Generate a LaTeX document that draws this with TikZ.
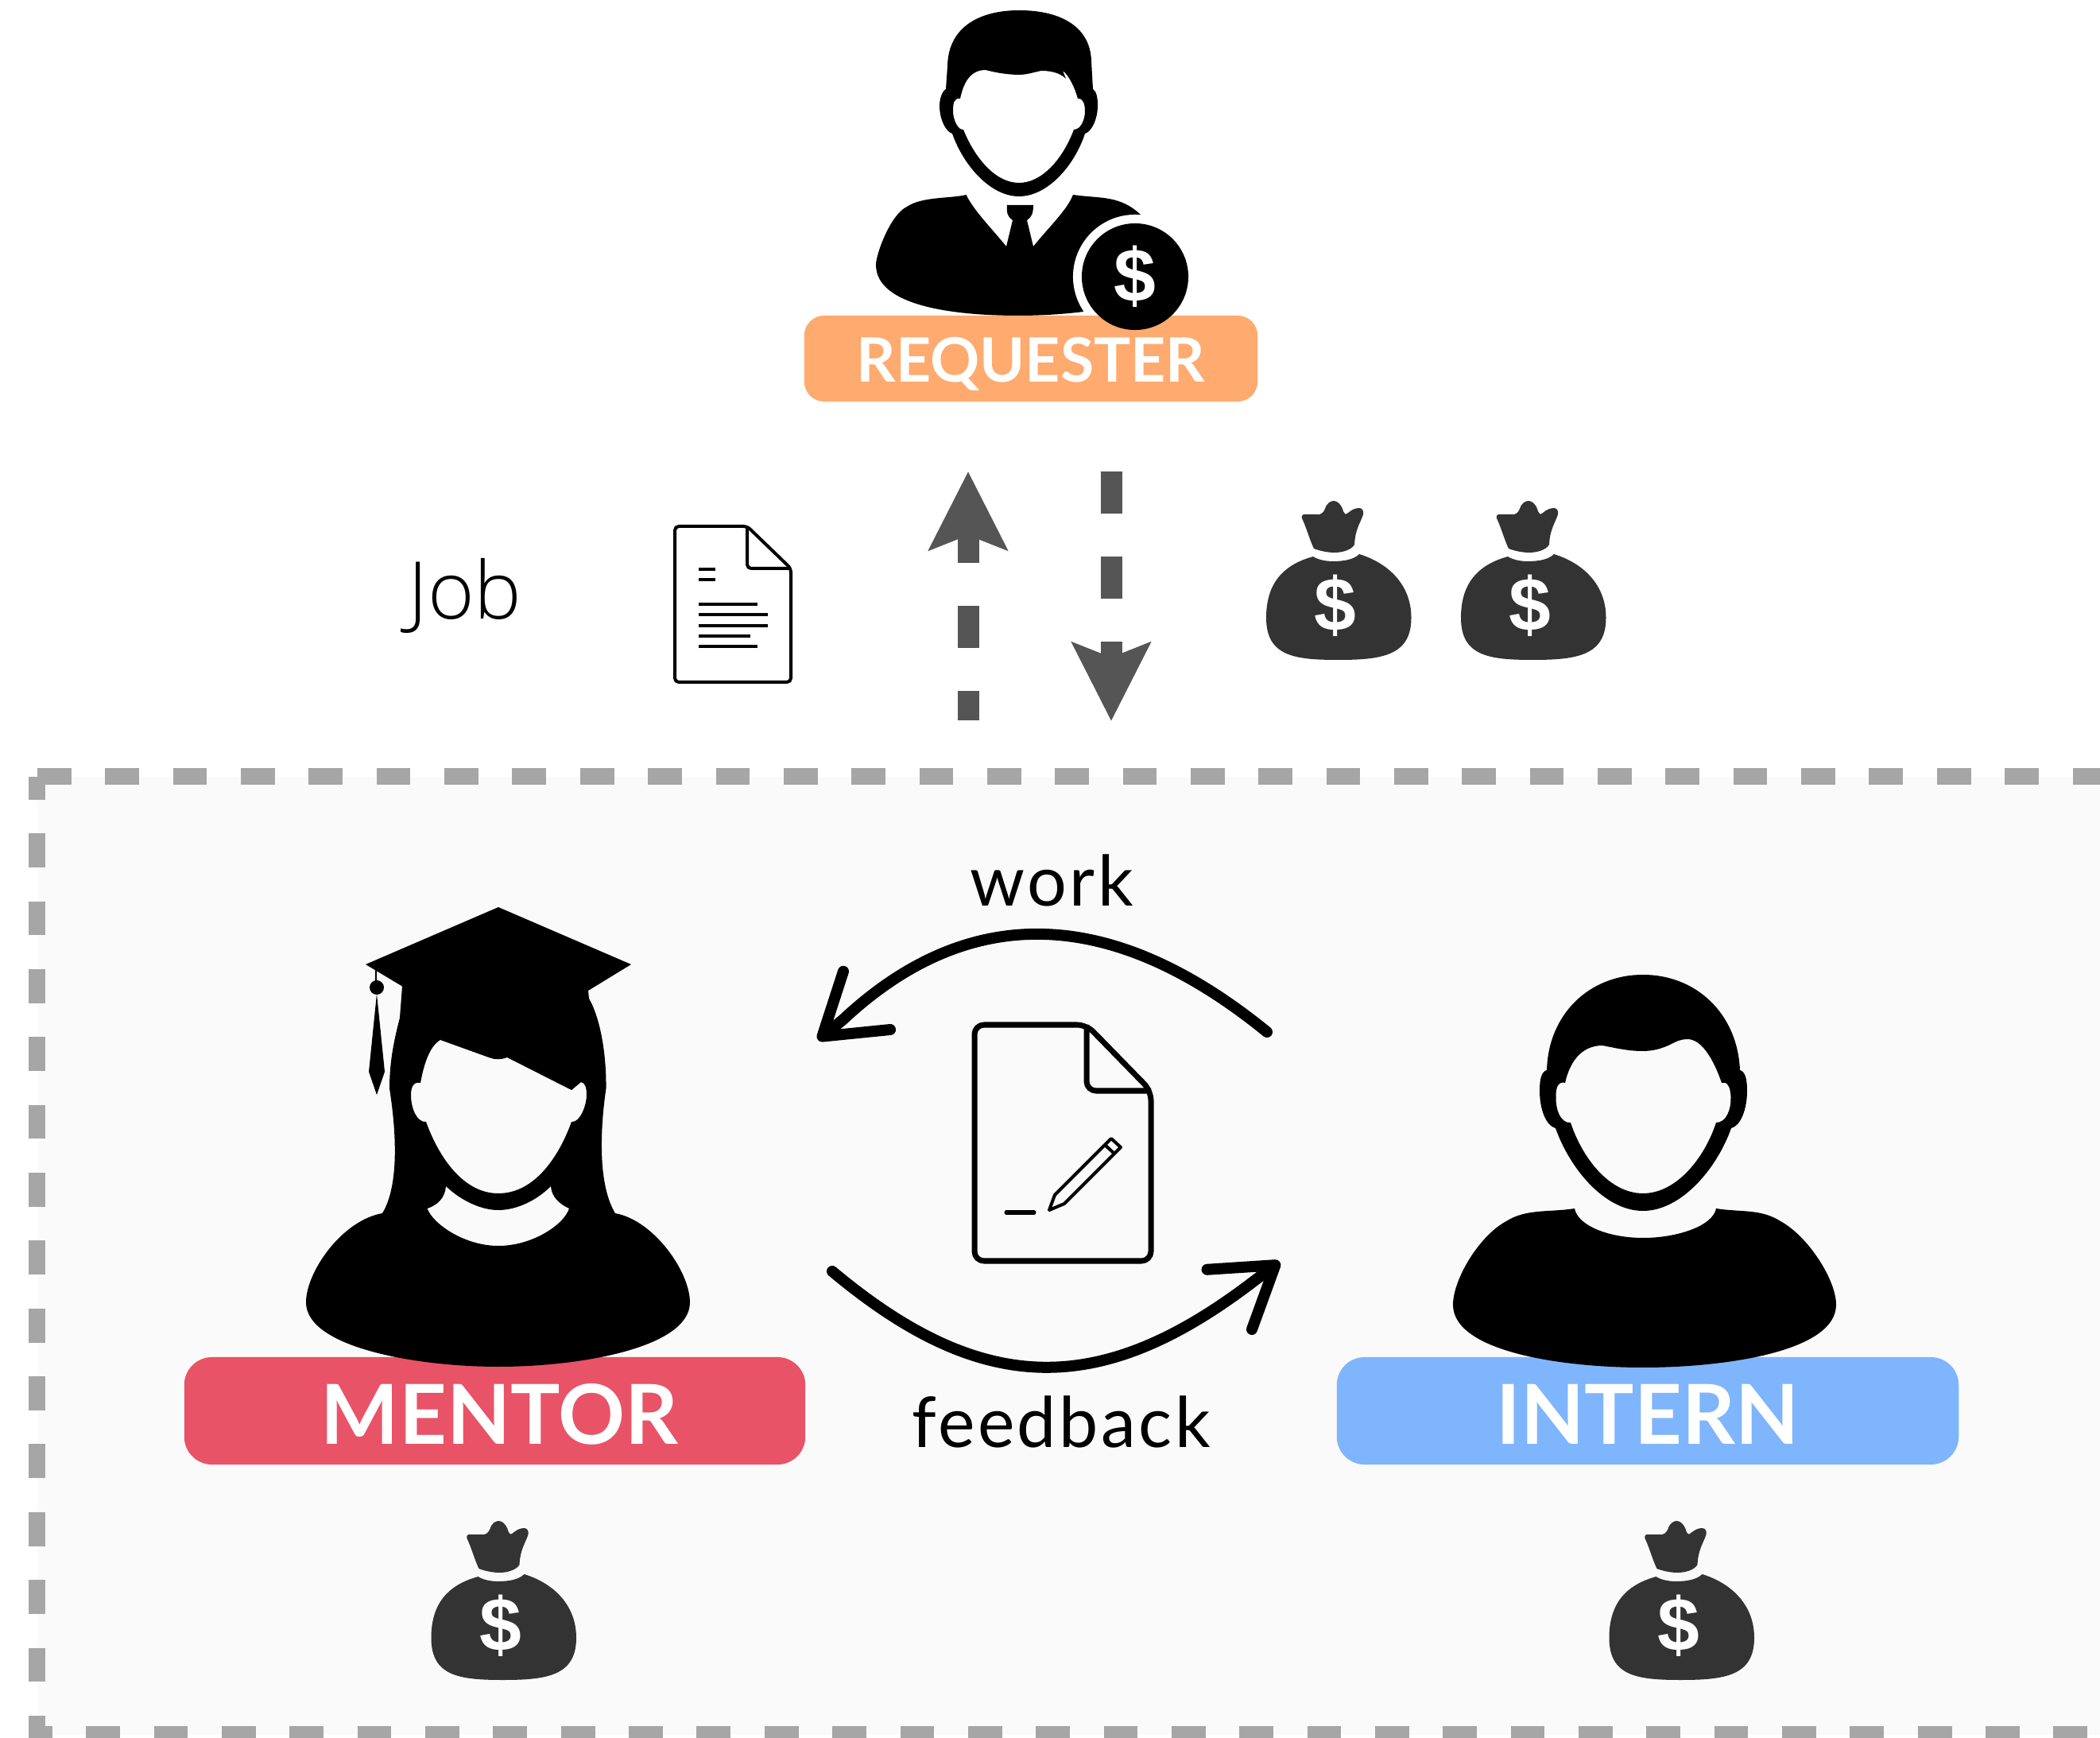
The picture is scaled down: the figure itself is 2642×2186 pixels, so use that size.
\documentclass[tikz,border=0pt]{standalone}
\usepackage{fontspec}
\setmainfont{Lato}
\newfontfamily\thinfont[LetterSpace=4]{Lato}
\newfontfamily\jobfont{Open Sans Light}
\newfontfamily\signfont{Liberation Sans}
\usetikzlibrary{positioning,arrows.meta}
\definecolor{reqorange}{HTML}{FFAA6E}
\definecolor{mentorred}{HTML}{E95367}
\definecolor{internblue}{HTML}{7FB5FC}
\definecolor{gatefill}{HTML}{FAFAFA}
\definecolor{gategray}{HTML}{A6A6A6}
\definecolor{flowgray}{HTML}{555555}
\definecolor{baggray}{HTML}{333333}
\tikzset{
  moneybag/.pic={
    \fill[baggray] (-40,22) .. controls (-41,18) and (-39,17) .. (-36,17) -- (-22,17) .. controls (-15,18) and (-13,14) .. (-11,10) .. controls (-9,3) and (-4,0) .. (0,0) .. controls (5,0) and (9,5) .. (11,10) .. controls (13,17) and (15,18) .. (18,15) .. controls (23,11) and (27,9) .. (32,9) .. controls (36,9) and (38,13) .. (37,17) .. controls (34,27) and (27,35) .. (26,55) .. controls (22,62) and (10,65) .. (1,65) .. controls (-8,65) and (-17,63) .. (-25,60) .. controls (-30,50) and (-35,32) .. (-40,22) -- cycle;
    \fill[baggray] (-26,70) .. controls (-20,74) and (-10,76) .. (-1,76) .. controls (12,76) and (25,74) .. (32,67) .. controls (68,78) and (97.5,105) .. (97.5,147) .. controls (97.5,195) and (60,200) .. (5,200) .. controls (-50,200) and (-85,195) .. (-85,147) .. controls (-85,102) and (-62,80) .. (-26,70) -- cycle;
    \node (sign) [sign] at (2,132) {\$};
  }
}
\begin{document}
\begin{tikzpicture}[
     x = 0.01cm, y = -0.01cm,
       sign/.style = {text=white, inner sep=0pt, font=\signfont\bfseries\fontsize{27}{30}\selectfont},
    tagbox/.style = {rectangle, text=white, inner sep=0pt, text depth=0pt, font=\bfseries},
      thin/.style = {inner sep=0pt, anchor=base, font=\thinfont\fontsize{25}{30}\selectfont},
  gateline/.style = {gategray, line width=0.21cm, dash pattern=on 0.427cm off 0.426cm},
  flowline/.style = {flowgray, line width=0.27cm, dash pattern=on 0.53cm off 0.54cm,
                     -{Stealth[length=0.98cm,width=0.97cm,inset=0.18cm]}},
  loopline/.style = {line width=0.14cm, line cap=round,
                     -{Straight Barb[length=0.72cm,width=0.94cm,round]}},
  docline/.style = {line width=0.07cm, rounded corners=0.12cm},
  jobline/.style = {line width=0.04cm, rounded corners=0.05cm}
                        ]
\useasboundingbox (0,0) rectangle (2642,2186);
% gate
\fill[gatefill] (47,977) rectangle (2642,2181.5);
\coordinate (gatetl) at (47,976.5);
\coordinate (gatetr) at (2642,976.5);
\coordinate (gateul) at (46.5,977);
\coordinate (gatedl) at (46.5,2186);
\coordinate (gatebl) at (36,2181.5);
\coordinate (gatebr) at (2642,2181.5);
\draw[gateline] (gatetl) -- (gatetr);
\draw[gateline, dash phase=0.14cm] (gateul) -- (gatedl);
\draw[gateline, dash phase=0.13cm] (gatebl) -- (gatebr);
% requester
\fill[even odd rule] (1190,112) -- (1192,83) .. controls (1193,32) and (1235,13) .. (1282,13) .. controls (1338,13) and (1372,36) .. (1373,77) -- (1375,112) .. controls (1380,115) and (1381,125) .. (1381,133) .. controls (1381,150) and (1373,166) .. (1365,168) .. controls (1352,208) and (1318,247) .. (1282,247) .. controls (1246,247) and (1212,208) .. (1198,168) .. controls (1190,166) and (1182,150) .. (1182,133) .. controls (1182,125) and (1185,115) .. (1190,112) -- cycle
  (1208,124) .. controls (1212,105) and (1220,88) .. (1240,88) .. controls (1255,92) and (1270,94) .. (1282,94) .. controls (1292,94) and (1300,91) .. (1310,89) .. controls (1325,89) and (1335,93) .. (1341,99) -- (1337,89) .. controls (1345,95) and (1352,110) .. (1356,124) .. controls (1362,123) and (1365,130) .. (1365,140) .. controls (1365,150) and (1360,163) .. (1351,163) .. controls (1338,198) and (1312,230) .. (1282,230) .. controls (1252,230) and (1226,198) .. (1212,163) .. controls (1205,164) and (1199,150) .. (1199,140) .. controls (1199,130) and (1200,123) .. (1208,124) -- cycle;
\fill (1215.5,245) .. controls (1225,265) and (1250,290) .. (1266,310) -- (1274,277) .. controls (1268,273) and (1266,268) .. (1267,258) -- (1300,258) .. controls (1300,268) and (1298,273) .. (1292,277) -- (1300,310) .. controls (1320,285) and (1342,265) .. (1350,245) .. controls (1385,250) and (1410,245) .. (1437,272) -- (1400,300) -- (1363,392) .. controls (1340,395) and (1310,397) .. (1282,397) .. controls (1200,397) and (1102,385) .. (1102,333) .. controls (1102,320) and (1120,270) .. (1141,260) .. controls (1160,247) and (1195,250) .. (1215.5,245) -- cycle;
\node (ring) [circle, fill=white, inner sep=0pt, minimum size=1.56cm] at (1428,348) {};
\node (requester) [tagbox, fill=reqorange, rounded corners=0.25cm, minimum width=5.7cm, minimum height=1.08cm, text height=0.58cm, font=\bfseries\fontsize{21.9}{26}\selectfont] at (1297,451) {REQUESTER};
\node (coin) [circle, fill=black, text=white, inner sep=0pt, minimum size=1.34cm, font=\signfont\bfseries\fontsize{27}{30}\selectfont] at (1428,348) {\$};
% job row
\node (job) [inner sep=0pt, anchor=base, font=\jobfont\fontsize{28.5}{32}\selectfont] at (585,779) {Job};
\draw[jobline] (849,662) -- (940,662) -- (995,715) -- (995,858) -- (849,858) -- cycle;
\draw[jobline] (940,662) -- (940,715) -- (995,715);
\draw[jobline] (879,716) -- (900,716);
\draw[jobline] (879,729) -- (900,729);
\draw[jobline] (879,760) -- (953,760);
\draw[jobline] (879,773) -- (966,773);
\draw[jobline] (879,787) -- (966,787);
\draw[jobline] (879,800) -- (944,800);
\draw[jobline] (879,813) -- (953,813);
\coordinate (upstart) at (1218,906);
\coordinate (upend) at (1218,593);
\coordinate (downstart) at (1398,593);
\coordinate (downend) at (1398,907);
\draw[flowline, dash phase=0.16cm] (upstart) -- (upend);
\draw[flowline] (downstart) -- (downend);
\pic (bagone) at (1678,630) {moneybag};
\pic (bagtwo) at (1923,630) {moneybag};
% mentor
\node (mentor) [tagbox, fill=mentorred, rounded corners=0.35cm, minimum width=7.81cm, minimum height=1.35cm, text height=0.83cm, font=\bfseries\fontsize{29.6}{34}\selectfont] at (622.5,1774.5) {\hspace*{0.12cm}MENTOR};
\fill[even odd rule] (627,1141) -- (794,1213) -- (740,1246) -- (741,1256) .. controls (755,1280) and (763,1325) .. (762.5,1369) .. controls (755,1420) and (752,1490) .. (774,1526) .. controls (823,1535) and (868,1600) .. (868,1638) .. controls (868,1695) and (730,1719) .. (627,1719) .. controls (525,1719) and (385,1695) .. (385,1638) .. controls (385,1600) and (430,1535) .. (481,1526) .. controls (503,1490) and (498,1420) .. (490,1369) .. controls (490,1330) and (498,1300) .. (503,1280) -- (506,1240.5) -- (460,1213) -- cycle
  (554,1308) -- (615,1330) .. controls (622,1333) and (630,1333) .. (638,1330) -- (719,1371) -- (731,1361) .. controls (737,1362) and (738,1370) .. (738,1377) .. controls (738,1390) and (730,1412) .. (719,1411) .. controls (705,1450) and (675,1501) .. (627,1501) .. controls (580,1501) and (550,1450) .. (536,1411) .. controls (525,1412) and (517,1395) .. (517,1377) .. controls (517,1368) and (520,1360) .. (529,1362) .. controls (533,1340) and (540,1316) .. (554,1308) -- cycle
  (561,1492) .. controls (580,1510) and (605,1522) .. (627,1522) .. controls (650,1522) and (675,1510) .. (693,1492) .. controls (694,1505) and (703,1514) .. (716,1520) .. controls (710,1540) and (670,1567) .. (627,1567) .. controls (585,1567) and (545,1540) .. (537.5,1520) .. controls (550,1516) and (560,1507) .. (561,1492) -- cycle;
\draw[line width=0.02cm] (473,1218) -- (473,1242);
\fill (474,1242) circle (0.09cm);
\fill (474,1250) -- (484,1348) -- (474,1377) -- (464,1348) -- cycle;
% intern
\node (intern) [tagbox, fill=internblue, rounded corners=0.35cm, minimum width=7.82cm, minimum height=1.35cm, text height=0.83cm, font=\bfseries\fontsize{29.6}{34}\selectfont] at (2073,1774.5) {INTERN};
\fill[even odd rule] (1946,1346) .. controls (1948,1275) and (2000,1226) .. (2067,1226) .. controls (2134,1226) and (2186,1275) .. (2189,1346) .. controls (2196,1348) and (2198,1358) .. (2198,1372) .. controls (2198,1395) and (2190,1416) .. (2178,1419) .. controls (2160,1470) and (2115,1523) .. (2067,1523) .. controls (2019,1523) and (1975,1470) .. (1957,1419) .. controls (1945,1416) and (1937,1395) .. (1937,1372) .. controls (1937,1358) and (1939,1348) .. (1946,1346) -- cycle
  (1969,1362) .. controls (1975,1335) and (1990,1315) .. (2016,1315) .. controls (2032,1318) and (2048,1322) .. (2066,1322) .. controls (2082,1322) and (2092,1318) .. (2101,1314) .. controls (2110,1309) and (2116,1307) .. (2123,1307) .. controls (2140,1307) and (2155,1330) .. (2166,1362) .. controls (2172,1360) and (2177,1365) .. (2177.5,1380) .. controls (2178,1395) and (2172,1412) .. (2159,1412) .. controls (2145,1455) and (2110,1501) .. (2067,1501) .. controls (2024,1501) and (1990,1455) .. (1976,1412) .. controls (1963,1413) and (1957,1395) .. (1957.5,1380) .. controls (1957,1365) and (1962,1360) .. (1969,1362) -- cycle;
\fill (1981,1520) .. controls (1985,1542) and (2025,1557) .. (2067,1557) .. controls (2110,1557) and (2155,1542) .. (2159,1520) .. controls (2190,1525) and (2215,1520) .. (2240,1536) .. controls (2275,1555) and (2310,1610) .. (2310,1641) .. controls (2310,1700) and (2170,1720) .. (2067,1720) .. controls (1965,1720) and (1828,1700) .. (1828,1641) .. controls (1828,1610) and (1860,1555) .. (1895,1536) .. controls (1920,1520) and (1950,1525) .. (1981,1520) -- cycle;
% review loop
\node (work) [thin] at (1323,1139.5) {work};
\node (feedback) [thin] at (1335,1820) {feedback};
\coordinate (workstart) at (1594,1298);
\coordinate (workbend) at (1060,1283);
\coordinate (workend) at (1029,1308);
\coordinate (feedstart) at (1047,1599);
\coordinate (feedbend) at (1578,1611);
\coordinate (feedend) at (1610,1587);
\draw[loopline] (workstart) .. controls (1400,1140) and (1220,1133) .. (workbend) -- (workend);
\draw[loopline] (feedstart) .. controls (1237,1758) and (1386,1758) .. (feedbend) -- (feedend);
\draw[docline] (1226,1289) -- (1367,1289) -- (1448,1372) -- (1448,1586) -- (1226,1586) -- cycle;
\draw[docline] (1367,1289) -- (1367,1372) -- (1448,1372);
\draw[line width=0.05cm, line cap=round] (1266,1525) -- (1301,1525);
\draw[line width=0.04cm, line join=round] (1320,1522) -- (1327,1503) -- (1398,1432) -- (1410,1443) -- (1339,1514) -- cycle;
\draw[line width=0.04cm] (1390,1440) -- (1402,1451);
% bags below
\pic (bagthree) at (627.5,1913) {moneybag};
\pic (bagfour) at (2109.5,1913) {moneybag};
\end{tikzpicture}
\end{document}
